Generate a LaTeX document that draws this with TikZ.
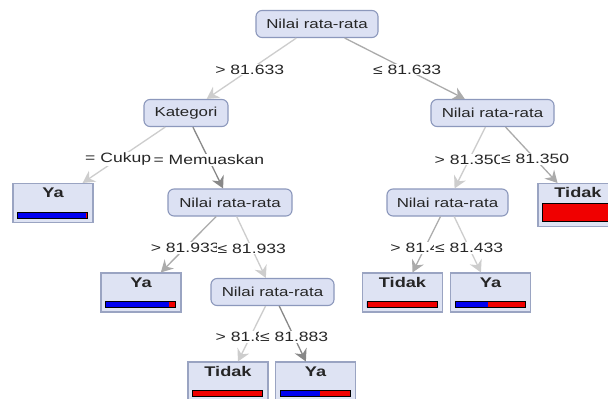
\documentclass[tikz,border=0pt]{standalone}
\usepackage{fontspec}
\setmainfont[FakeStretch=1.3]{Liberation Sans}
\usetikzlibrary{arrows.meta,calc}
\definecolor{nodefill}{HTML}{DCE1F3}
\definecolor{nodeedge}{HTML}{8C98BC}
\definecolor{leaffill}{HTML}{DEE3F3}
\definecolor{leafedge}{HTML}{9AA4C2}
\definecolor{elight}{HTML}{CDCDCD}
\definecolor{emid}{HTML}{ABABAB}
\definecolor{edark}{HTML}{888888}
\definecolor{barblue}{HTML}{0000F0}
\definecolor{barred}{HTML}{F00000}
\newcommand{\mkleaf}[5]{%
  \node[leafbox] (#1) at (#2,#3) {};
  \node[leaftxt] (#1t) at ($(#1.north)+(0,10)$) {#4};
  \fill[barred] ($(#1.north west)+(5,29)$) rectangle ($(#1.north east)+(-6,35)$);
  \fill[barblue] ($(#1.north west)+(5,29)$) rectangle ($(#1.north west)+(5+#5*69,35)$);
  \draw[bar] ($(#1.north west)+(5,29)$) rectangle ($(#1.north east)+(-6,35)$);
}
\begin{document}
\begin{tikzpicture}[x=1pt,y=-1pt,
  splitnode/.style={draw=nodeedge, fill=nodefill, rounded corners=6pt, line width=1.1pt,
    minimum width=#1, minimum height=27pt, inner sep=0pt,
    font=\fontsize{13}{15}\selectfont, text=black!85},
  leafbox/.style={draw=leafedge, fill=leaffill, line width=1.1pt,
    minimum width=80pt, minimum height=39pt, inner sep=0pt},
  leaftxt/.style={font=\fontsize{14}{16}\selectfont\bfseries, inner sep=0pt, text=black!85},
  conn/.style={draw=#1, line width=1.3pt,
    -{Stealth[length=12pt,width=13pt,inset=4pt,fill=#1]}},
  elabel/.style={fill=white, inner sep=1pt, font=\fontsize{13.5}{15}\selectfont, text=black!85},
  bar/.style={draw=black, line width=0.8pt}
]
\useasboundingbox (0,0) rectangle (608,399);
\clip (0,0) rectangle (608,399);
\fill[white] (0,0) rectangle (608,399);

% split nodes
\node[splitnode=122pt] (root) at (317,24) {Nilai rata-rata};
\node[splitnode=84pt]  (kat)  at (186,113) {Kategori};
\node[splitnode=123pt] (nr1)  at (492.5,113) {Nilai rata-rata};
\node[splitnode=124pt] (nl2)  at (230,202.5) {Nilai rata-rata};
\node[splitnode=121pt] (nr2)  at (447.5,202.5) {Nilai rata-rata};
\node[splitnode=123pt] (nl3)  at (272.5,292) {Nilai rata-rata};

% leaves
\mkleaf{yaA}{53}{203}{Ya}{1}
\mkleaf{yaB}{141}{292.5}{Ya}{0.92}
\mkleaf{tidC}{402.5}{292.5}{Tidak}{0}
\mkleaf{yaC}{490.5}{292.5}{Ya}{0.48}
\mkleaf{tidD}{228}{381.5}{Tidak}{0}
\mkleaf{yaD}{315.5}{381.5}{Ya}{0.58}

\node[leafbox, minimum height=43pt] (tidR) at (578,205) {};
\node[leaftxt] (tidRt) at ($(tidR.north)+(0,10)$) {Tidak};
\fill[barred] ($(tidR.north west)+(5,20)$) rectangle ($(tidR.north east)+(-6,38)$);
\draw[bar] ($(tidR.north west)+(5,20)$) rectangle ($(tidR.north east)+(-6,38)$);

% connectors
\draw[conn=elight] (root) -- node[elabel, pos=0.52] {> 81.633} (kat);
\draw[conn=emid]   (root) -- node[elabel, pos=0.52] {≤ 81.633} (nr1);
\draw[conn=elight] (kat) -- node[elabel, pos=0.57] {= Cukup} (yaA);
\draw[conn=edark]  (kat) -- node[elabel, pos=0.53] {= Memuaskan} (nl2);
\draw[conn=emid]   (nl2) -- node[elabel, pos=0.56] {> 81.933} (yaB);
\draw[conn=elight] (nl2) -- node[elabel, pos=0.52] {≤ 81.933} (nl3);
\draw[conn=elight] (nl3) -- node[elabel, pos=0.56] {> 81.883} (tidD);
\draw[conn=edark]  (nl3) -- node[elabel, pos=0.56] {≤ 81.883} (yaD);
\draw[conn=elight] (nr1) -- node[elabel, pos=0.53] {> 81.350} (nr2);
\draw[conn=emid]   (nr1) -- node[elabel, pos=0.57] {≤ 81.350} (tidR);
\draw[conn=emid]   (nr2) -- node[elabel, pos=0.56] {> 81.433} (tidC);
\draw[conn=elight] (nr2) -- node[elabel, pos=0.56] {≤ 81.433} (yaC);
\end{tikzpicture}
\end{document}
